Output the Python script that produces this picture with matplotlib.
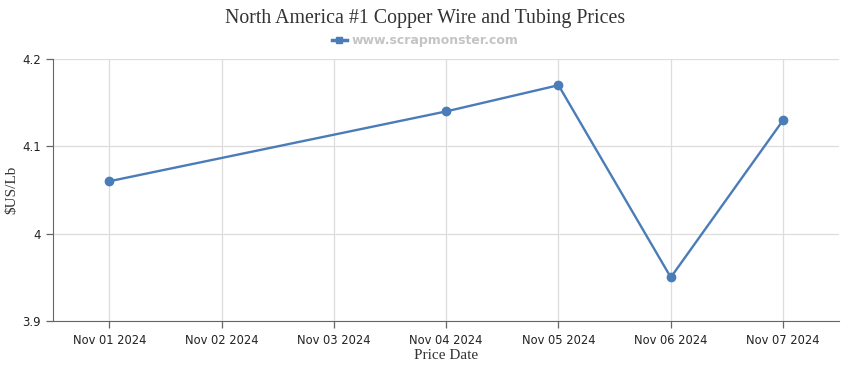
import matplotlib
matplotlib.use('Agg')
import matplotlib.pyplot as plt
from matplotlib.lines import Line2D

dates = ['Nov 01 2024', 'Nov 02 2024', 'Nov 03 2024', 'Nov 04 2024',
         'Nov 05 2024', 'Nov 06 2024', 'Nov 07 2024']
price_dates = ['Nov 01 2024', 'Nov 04 2024', 'Nov 05 2024', 'Nov 06 2024', 'Nov 07 2024']
prices = [4.06, 4.14, 4.17, 3.95, 4.13]
y_ticks = [3.9, 4.0, 4.1, 4.2]
y_labels = ['3.9', '4', '4.1', '4.2']

blue = '#4a7cb8'

fig = plt.figure(figsize=(8.5, 3.7), dpi=100)
ax = fig.add_axes([0.0624, 0.1324, 0.925, 0.7081])

xs = [dates.index(d) for d in price_dates]
ax.plot(xs, prices, color=blue, lw=1.7, marker='o', ms=6, zorder=3)

ax.set_xlim(-0.5, len(dates) - 0.5)
ax.set_ylim(3.9, 4.2)
ax.set_xticks(range(len(dates)))
ax.set_xticklabels(dates, fontsize=8.3, color='#222222')
ax.set_yticks(y_ticks)
ax.set_yticklabels(y_labels, fontsize=8.5, color='#222222')
ax.grid(True, color='#dddddd', lw=0.9)
ax.set_axisbelow(True)

for s in ['top', 'right']:
    ax.spines[s].set_visible(False)
for s in ['left', 'bottom']:
    ax.spines[s].set_color('#666666')
ax.tick_params(axis='both', colors='#666666', labelcolor='#222222', length=5, width=0.9)
ax.tick_params(axis='x', pad=4)

ax.set_xlabel('Price Date', family='Liberation Serif', fontsize=11, color='#333333', labelpad=2)
ax.set_ylabel('$US/Lb', family='Liberation Serif', fontsize=11, color='#333333', labelpad=3)

fig.suptitle('North America #1 Copper Wire and Tubing Prices', family='Liberation Serif',
             fontsize=14.3, color='#333333', y=0.975)

handle = Line2D([], [], color=blue, lw=2.5, marker='s', ms=5)
fig.legend([handle], ['www.scrapmonster.com'], loc='center', bbox_to_anchor=(0.5, 0.89),
           frameon=False, handlelength=1.2, handletextpad=0.4,
           prop={'weight': 'bold', 'size': 9}, labelcolor='#c4c4c4')

fig.savefig('out.png', dpi=100)
